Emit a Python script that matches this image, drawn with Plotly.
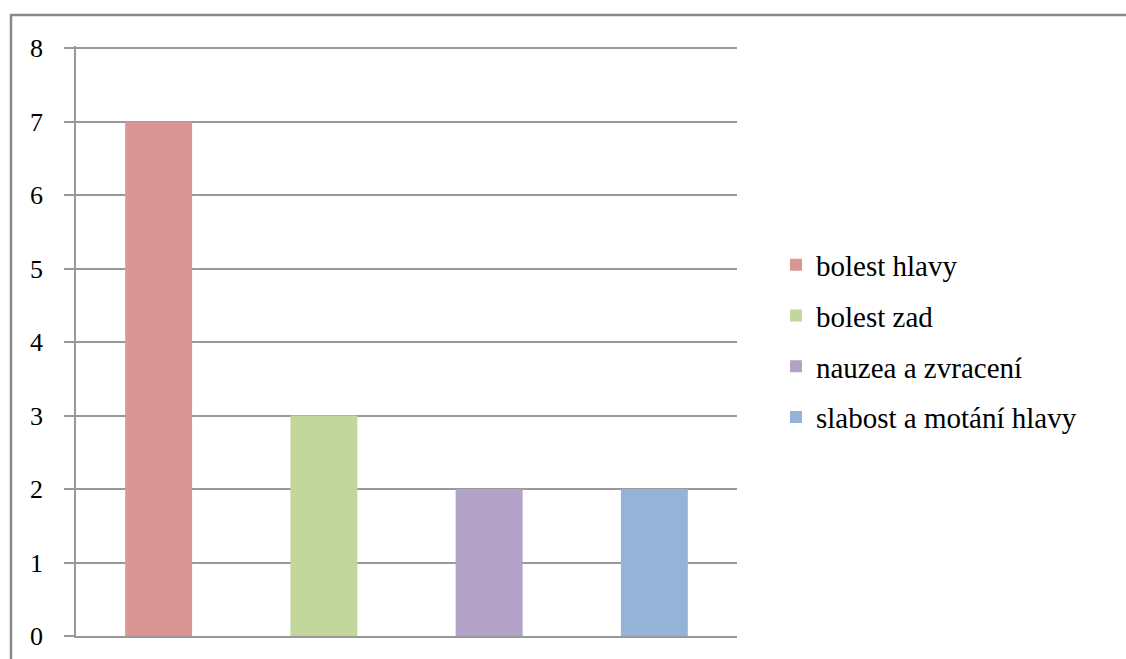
import plotly.graph_objects as go

categories = ["bolest hlavy", "bolest zad", "nauzea a zvracení", "slabost a motání hlavy"]
values = [7, 3, 2, 2]
colors = ["#D99694", "#C3D69B", "#B3A2C7", "#95B3D7"]
y_ticks = [0, 1, 2, 3, 4, 5, 6, 7, 8]

SERIF = "Liberation Serif, Times New Roman, serif"

fig = go.Figure()
for cat, val, col in zip(categories, values, colors):
    fig.add_trace(go.Bar(
        x=[cat], y=[val], name=cat, marker=dict(color=col, line=dict(width=0)),
        width=0.405, legendgroup=cat,
    ))

fig.update_layout(
    width=1126, height=659,
    margin=dict(l=76, r=389, t=46, b=23, autoexpand=False),
    paper_bgcolor="white", plot_bgcolor="white",
    barmode="overlay",
    font=dict(family=SERIF, size=28, color="black"),
    showlegend=True,
    legend=dict(x=(776 - 76) / 661, y=1 - (341 - 46) / 590, xanchor="left", yanchor="middle",
                font=dict(family=SERIF, size=29, color="black"),
                tracegroupgap=10, itemwidth=30, bgcolor="rgba(0,0,0,0)"),
    xaxis=dict(categoryorder="array", categoryarray=categories, automargin=False,
               showticklabels=False, ticks="", showgrid=False,
               showline=True, linecolor="#999999", linewidth=1.5, zeroline=False),
    yaxis=dict(range=[0, 8.03], tickvals=y_ticks, showgrid=True, gridcolor="#999999", gridwidth=1.5,
               automargin=False,
               ticks="outside", ticklen=10, tickcolor="#999999", tickwidth=1.5,
               showline=True, linecolor="#999999", linewidth=1.5, zeroline=False,
               ticklabelstandoff=16, tickfont=dict(family=SERIF, size=26, color="black")),
)

fig.add_shape(type="rect", xref="paper", yref="paper",
              x0=(11 - 76) / 661, x1=1.8, y0=-0.2, y1=1 + (46 - 15) / 590,
              line=dict(color="#888888", width=2.5), fillcolor="rgba(0,0,0,0)", layer="below")

fig.write_html("out.html")
